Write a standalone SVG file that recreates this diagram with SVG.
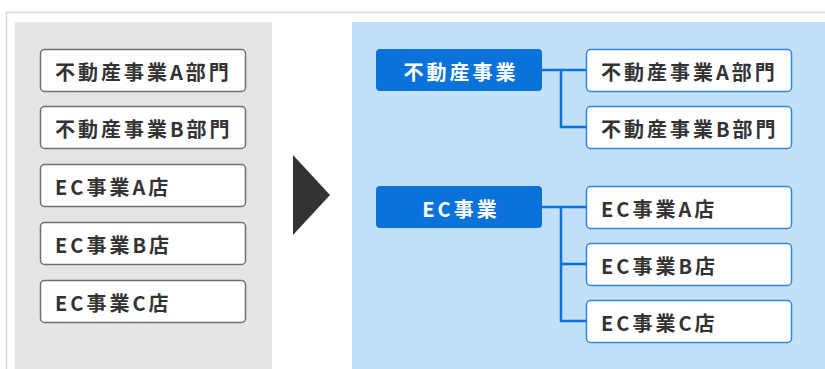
<svg xmlns="http://www.w3.org/2000/svg" width="825" height="369" viewBox="0 0 825 369">
<style>
text{font-family:"Noto Sans CJK JP","Noto Sans",sans-serif;font-weight:700;font-size:20px;letter-spacing:3px;dominant-baseline:central}
.gbox{fill:#fff;stroke:#707070;stroke-width:1.5}
.bbox{fill:#fff;stroke:#2f86e3;stroke-width:1.5}
.pbox{fill:#0a72d8}
.dk{fill:#333}
.wt{fill:#fff;text-anchor:middle}
.conn{fill:none;stroke:#0a72d8;stroke-width:2.5}
</style>
<rect x="0" y="0" width="825" height="369" fill="#fff"/>
<path d="M6.5,369 V12.5 H825" fill="none" stroke="#d8d8d8" stroke-width="1.5"/>
<rect x="15" y="22" width="257" height="347" fill="#e5e5e5"/>
<rect x="352" y="22" width="473" height="347" fill="#c2e1f8"/>
<polygon points="293,155 330,195 293,235" fill="#333"/>

<g id="left-a"><rect class="gbox" x="40.5" y="49.5" width="205" height="42" rx="4"/><text class="dk" x="55" y="71">不動産事業A部門</text></g>
<g id="left-b"><rect class="gbox" x="40.5" y="106.5" width="205" height="42" rx="4"/><text class="dk" x="55" y="128">不動産事業B部門</text></g>
<g id="left-eca"><rect class="gbox" x="40.5" y="164.5" width="205" height="42" rx="4"/><text class="dk" x="55" y="186">EC事業A店</text></g>
<g id="left-ecb"><rect class="gbox" x="40.5" y="222.5" width="205" height="42" rx="4"/><text class="dk" x="55" y="244">EC事業B店</text></g>
<g id="left-ecc"><rect class="gbox" x="40.5" y="280.5" width="205" height="42" rx="4"/><text class="dk" x="55" y="302">EC事業C店</text></g>

<g id="connectors">
<path class="conn" d="M542,70 H586 M561,70 V127 H586"/>
<path class="conn" d="M542,207 H586 M561,207 V321 H586 M561,264 H586"/>
</g>

<g id="parent-re"><rect class="pbox" x="376" y="49" width="166" height="42" rx="4"/><text class="wt" x="461" y="71">不動産事業</text></g>
<g id="parent-ec"><rect class="pbox" x="376" y="186" width="166" height="42" rx="4"/><text class="wt" x="461" y="208">EC事業</text></g>

<g id="right-a"><rect class="bbox" x="586.5" y="49.5" width="205" height="42" rx="4"/><text class="dk" x="601" y="71">不動産事業A部門</text></g>
<g id="right-b"><rect class="bbox" x="586.5" y="106.5" width="205" height="42" rx="4"/><text class="dk" x="601" y="128">不動産事業B部門</text></g>
<g id="right-eca"><rect class="bbox" x="586.5" y="186.5" width="205" height="42" rx="4"/><text class="dk" x="601" y="208">EC事業A店</text></g>
<g id="right-ecb"><rect class="bbox" x="586.5" y="243.5" width="205" height="42" rx="4"/><text class="dk" x="601" y="265">EC事業B店</text></g>
<g id="right-ecc"><rect class="bbox" x="586.5" y="300.5" width="205" height="42" rx="4"/><text class="dk" x="601" y="322">EC事業C店</text></g>
</svg>
